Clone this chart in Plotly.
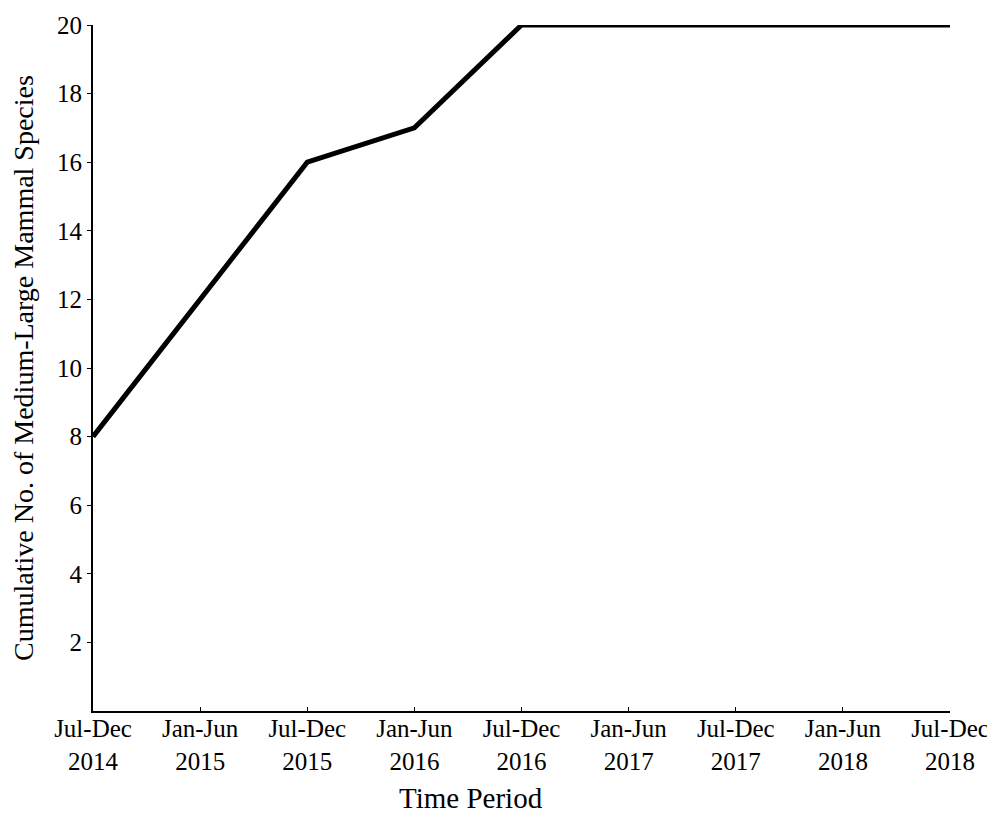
import plotly.graph_objects as go

periods = ["Jul-Dec<br>2014", "Jan-Jun<br>2015", "Jul-Dec<br>2015", "Jan-Jun<br>2016",
           "Jul-Dec<br>2016", "Jan-Jun<br>2017", "Jul-Dec<br>2017", "Jan-Jun<br>2018",
           "Jul-Dec<br>2018"]
cumulative_species = [8, 12, 16, 17, 20, 20, 20, 20, 20]
y_ticks = [2, 4, 6, 8, 10, 12, 14, 16, 18, 20]
x_title = "Time Period"
y_title = "Cumulative No. of Medium-Large Mammal Species"

font_family = "Liberation Serif, Times New Roman, serif"

fig = go.Figure(go.Scatter(
    x=list(range(len(periods))), y=cumulative_species, mode="lines",
    line=dict(color="black", width=5), cliponaxis=False,
))

fig.update_layout(
    width=987, height=811,
    margin=dict(l=85, r=45, t=17, b=108, autoexpand=False),
    paper_bgcolor="white", plot_bgcolor="white",
    font=dict(family=font_family, color="black", size=24),
    showlegend=False,
    xaxis=dict(
        range=[0, len(periods) - 1], tickmode="array",
        tickvals=list(range(len(periods))), ticktext=periods,
        showline=True, linecolor="black", linewidth=2, showgrid=False, zeroline=False,
        ticks="inside", ticklen=4, tickcolor="black", tickwidth=1,
        tickfont=dict(size=25), ticklabelstandoff=-6, automargin=False,
    ),
    yaxis=dict(
        range=[0, 20], tickmode="array", tickvals=y_ticks,
        showline=True, linecolor="black", linewidth=2, showgrid=False, zeroline=False,
        ticks="outside", ticklen=4, tickcolor="black", tickwidth=1,
        tickfont=dict(size=25), automargin=False,
        title=dict(text=y_title, font=dict(size=28), standoff=18),
    ),
    annotations=[dict(
        text=x_title, xref="paper", yref="paper", x=0.441, y=-0.127,
        xanchor="center", yanchor="middle", showarrow=False,
        font=dict(size=29),
    )],
)

fig.write_html("out.html")
